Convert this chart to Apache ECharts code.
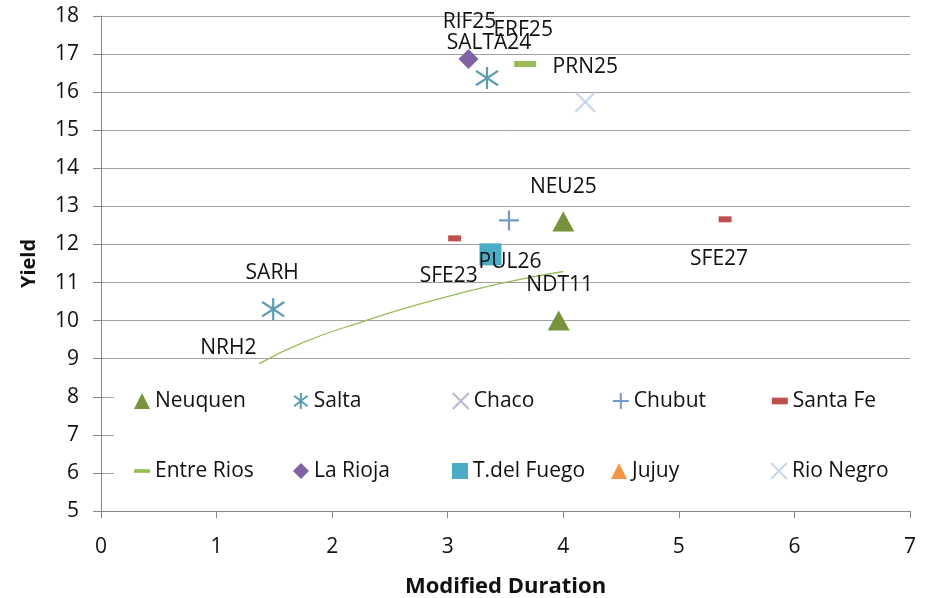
<!DOCTYPE html>
<html>
<head>
<meta charset="utf-8">
<script src="https://cdn.jsdelivr.net/npm/echarts@6/dist/echarts.min.js"></script>
<style>
html,body{margin:0;padding:0;background:#fff;}
#chart{width:934px;height:598px;}
</style>
</head>
<body>
<div id="chart"></div>
<script>
// ---- data ----
const seriesNames = ['Neuquen','Salta','Chaco','Chubut','Santa Fe','Entre Rios','La Rioja','T.del Fuego','Jujuy','Rio Negro'];
const neuquen   = [[4.00, 12.60, 'NEU25'], [3.96, 10.00, 'NDT11']];
const salta     = [[3.34, 16.37, 'SALTA24'], [1.49, 10.30, 'SARH']];
const chaco     = [];
const chubut    = [[3.53, 12.63, 'PUL26']];
const santaFe   = [[5.40, 12.66, 'SFE27'], [3.06, 12.16, 'SFE23']];
const entreRios = [[3.67, 16.74, 'ERF25']];
const laRioja   = [[3.18, 16.87, 'RIF25']];
const tdFuego   = [[3.37, 11.74, '']];
const jujuy     = [];
const rioNegro  = [[4.19, 15.74, 'PRN25']];
const trendX    = [1.37, 1.75, 2.24, 2.80, 3.45, 4.00];
const trendY    = [8.87, 9.43, 9.95, 10.47, 10.97, 11.29];
const trendLabel = 'NRH2';
const xTicks = [0, 7, 1];
const yTicks = [5, 18, 1];

// ---- styling / layout (kept separate from data) ----
const FONT = 'Open Sans';
const TEXT = '#111111';
const labelOffsets = {
  NEU25:[0,-35], NDT11:[1,-36], SALTA24:[2,-35], SARH:[-1,-36], PUL26:[1,42],
  SFE27:[-6,40], SFE23:[-6,38], ERF25:[-2,-34], RIF25:[1,-37], PRN25:[0,-35], NRH2:[-31,-16]
};
const P = {
  asterisk: 'path://M10,0L10,20M1.5,3.5L18.5,16.5M1.5,16.5L18.5,3.5',
  plus: 'path://M10,0L10,20M0,10L20,10',
  cross: 'path://M0,0L20,20M0,20L20,0',
  dashWide: 'path://M0,0H22V5H0Z',
  dashShort: 'path://M0,0H12V5H0Z'
};
const styles = {
  'Neuquen':    {symbol:'triangle', size:[22,20], color:'#77933C'},
  'Salta':      {symbol:P.asterisk, size:22, stroke:'#31859C'},
  'Chaco':      {symbol:P.cross, size:18, stroke:'#B3A2C7'},
  'Chubut':     {symbol:P.plus, size:20, stroke:'#4F81BD'},
  'Santa Fe':   {symbol:'rect', size:[13,6], color:'#C0504D', legendIcon:P.dashShort},
  'Entre Rios': {symbol:'rect', size:[22,6], color:'#9BBB59', legendIcon:P.dashWide},
  'La Rioja':   {symbol:'diamond', size:20, color:'#8064A2'},
  'T.del Fuego':{symbol:'rect', size:22, color:'#4BACC6'},
  'Jujuy':      {symbol:'triangle', size:[22,20], color:'#F79646'},
  'Rio Negro':  {symbol:P.cross, size:20, stroke:'#B9CDE5'}
};
const dataMap = {
  'Neuquen':neuquen,'Salta':salta,'Chaco':chaco,'Chubut':chubut,'Santa Fe':santaFe,
  'Entre Rios':entreRios,'La Rioja':laRioja,'T.del Fuego':tdFuego,'Jujuy':jujuy,'Rio Negro':rioNegro
};

function mkLabel(name){
  if(!name) return {show:false};
  return {show:true, position:'inside', offset:labelOffsets[name]||[0,0],
    formatter:name, color:TEXT, opacity:1, textBorderWidth:0, textBorderColor:'transparent',
    fontFamily:FONT, fontSize:21};
}

const series = seriesNames.map(n=>{
  const s = styles[n];
  const itemStyle = s.stroke ? {color:'rgba(255,255,255,0)', borderColor:s.stroke, borderWidth:2.2}
                             : {color:s.color, opacity:1};
  return {
    name:n, type:'scatter', symbol:s.symbol, symbolSize:s.size,
    itemStyle, emphasis:{disabled:true}, z:3,
    data: dataMap[n].map(d=>({value:[d[0],d[1]], label:mkLabel(d[2])}))
  };
});
series.push({
  name:'trend', type:'line', smooth:true, symbol:'circle', symbolSize:0, showSymbol:true,
  lineStyle:{color:'#9BBB59', width:1.3}, itemStyle:{color:'#9BBB59'}, z:2,
  emphasis:{disabled:true},
  data: trendX.map((x,i)=>({value:[x, trendY[i]], label: i===0 ? mkLabel(trendLabel) : {show:false}}))
});

function legendData(names){
  return names.map(n=>({name:n, icon: styles[n].legendIcon || styles[n].symbol}));
}
const legendCommon = {
  orient:'horizontal', itemWidth:16, itemHeight:16, itemGap:0,
  backgroundColor:'#ffffff', selectedMode:false, symbolKeepAspect:true,
  textStyle:{fontFamily:FONT, fontSize:21, color:TEXT, width:138, lineHeight:22}
};

const chart = echarts.init(document.getElementById('chart'), null, {renderer:'canvas'});
chart.setOption({
  animation:false,
  backgroundColor:'#ffffff',
  grid:{left:101, right:24, top:16, bottom:87, containLabel:false, outerBoundsMode:'none'},
  xAxis:{
    type:'value', min:xTicks[0], max:xTicks[1], interval:xTicks[2],
    name:'Modified Duration', nameLocation:'middle', nameGap:65,
    nameTextStyle:{fontFamily:FONT, fontWeight:'bold', fontSize:22, color:TEXT},
    axisLine:{show:true, lineStyle:{color:'#868686', width:1}},
    axisTick:{show:true, length:7, lineStyle:{color:'#868686'}},
    axisLabel:{fontFamily:FONT, fontSize:21, color:TEXT, margin:26},
    splitLine:{show:false}
  },
  yAxis:{
    type:'value', min:yTicks[0], max:yTicks[1], interval:yTicks[2],
    name:'Yield', nameLocation:'middle', nameGap:62,
    nameTextStyle:{fontFamily:FONT, fontWeight:'bold', fontSize:20, color:TEXT},
    axisLine:{show:true, lineStyle:{color:'#868686', width:1}},
    axisTick:{show:true, length:8, lineStyle:{color:'#868686'}},
    axisLabel:{fontFamily:FONT, fontSize:21, color:TEXT, margin:22},
    splitLine:{show:true, lineStyle:{color:'#a0a0a0', width:1}}
  },
  legend:[
    Object.assign({}, legendCommon, {left:114, top:375, padding:[15,0,11,20], data:legendData(seriesNames.slice(0,5))}),
    Object.assign({}, legendCommon, {left:114, top:423, padding:[37,0,13,20], data:legendData(seriesNames.slice(5))})
  ],
  series
});
</script>
</body>
</html>
